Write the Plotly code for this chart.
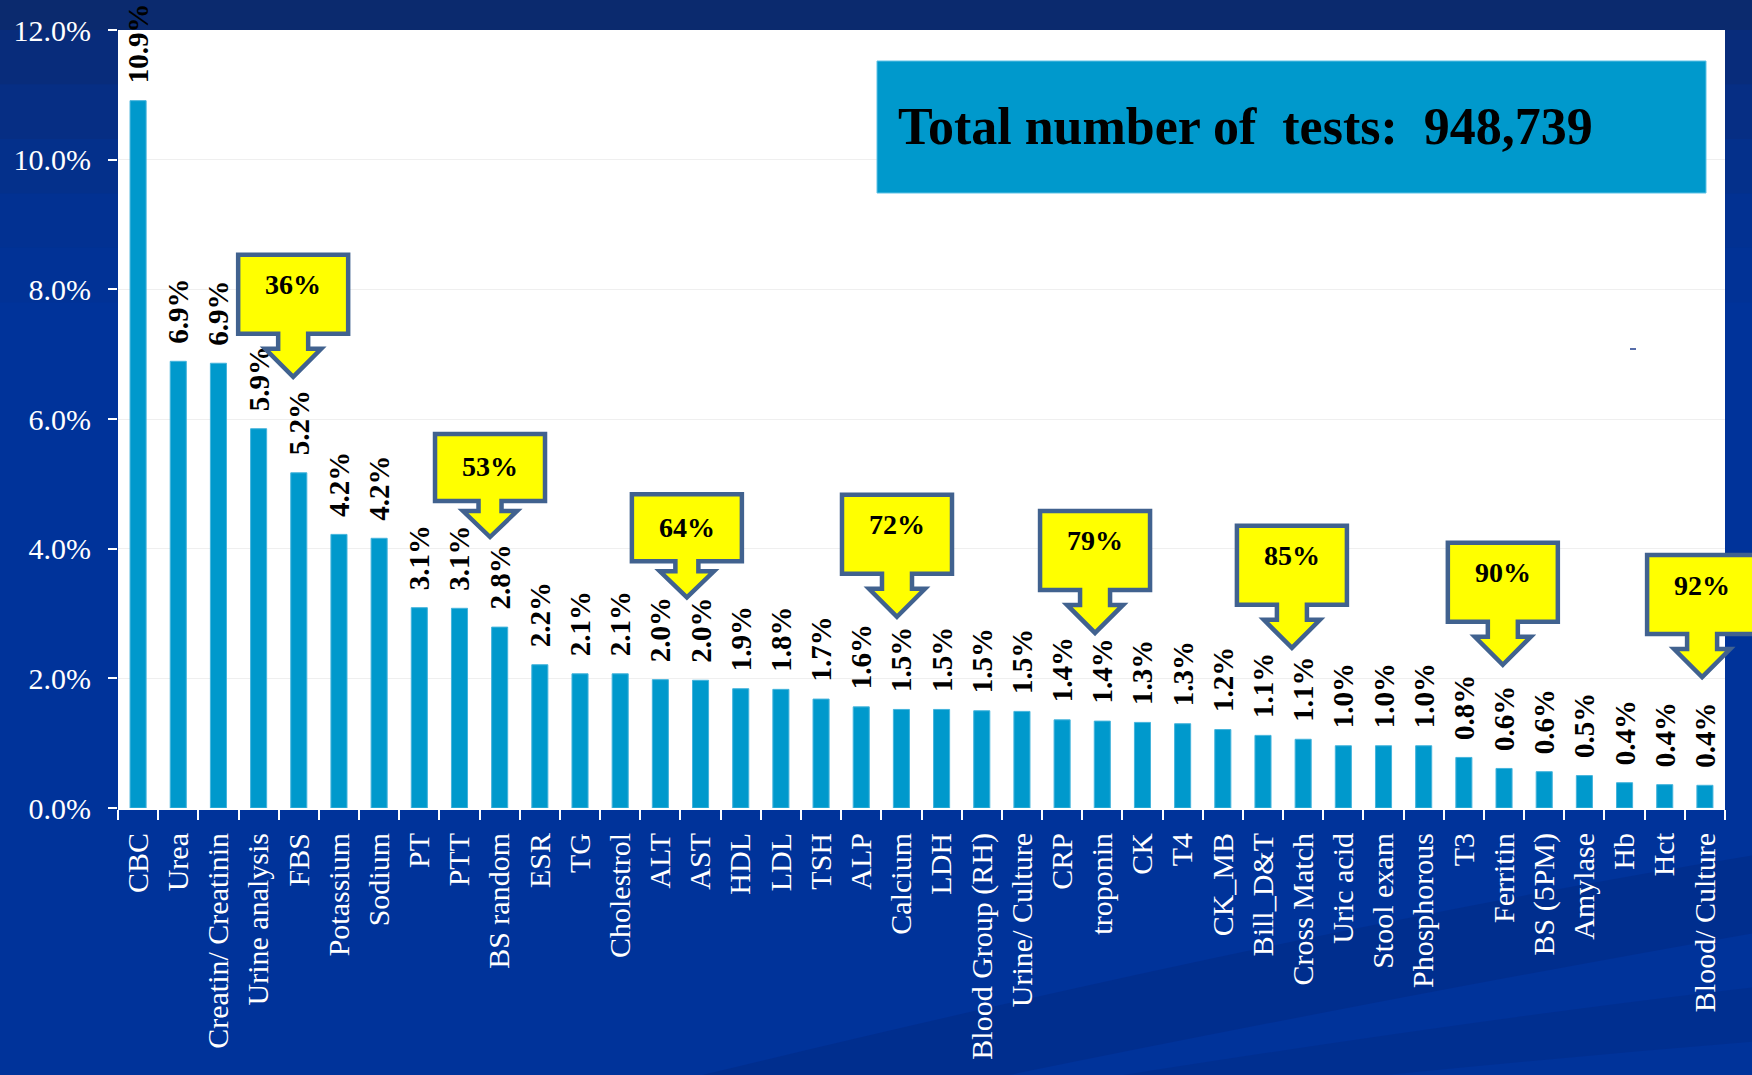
import plotly.graph_objects as go

# ---------------- data ----------------
categories = ["CBC", "Urea", "Creatin/ Creatinin", "Urine analysis", "FBS", "Potassium",
              "Sodium", "PT", "PTT", "BS random", "ESR", "TG", "Cholestrol", "ALT", "AST",
              "HDL", "LDL", "TSH", "ALP", "Calcium", "LDH", "Blood Group (RH)",
              "Urine/ Culture", "CRP", "troponin", "CK", "T4", "CK_MB", "Bill_D&T",
              "Cross Match", "Uric acid", "Stool exam", "Phosphorous", "T3", "Ferritin",
              "BS (5PM)", "Amylase", "Hb", "Hct", "Blood/ Culture"]

share_pct = [10.91, 6.89, 6.86, 5.85, 5.17, 4.22, 4.16, 3.09, 3.08, 2.79, 2.21, 2.07,
             2.07, 1.98, 1.97, 1.84, 1.83, 1.68, 1.56, 1.52, 1.52, 1.50, 1.49, 1.36,
             1.34, 1.32, 1.30, 1.21, 1.12, 1.06, 0.96, 0.96, 0.96, 0.78, 0.61, 0.56,
             0.50, 0.39, 0.36, 0.35]

bar_labels = ["10.9%", "6.9%", "6.9%", "5.9%", "5.2%", "4.2%", "4.2%", "3.1%", "3.1%",
              "2.8%", "2.2%", "2.1%", "2.1%", "2.0%", "2.0%", "1.9%", "1.8%", "1.7%",
              "1.6%", "1.5%", "1.5%", "1.5%", "1.5%", "1.4%", "1.4%", "1.3%", "1.3%",
              "1.2%", "1.1%", "1.1%", "1.0%", "1.0%", "1.0%", "0.8%", "0.6%", "0.6%",
              "0.5%", "0.4%", "0.4%", "0.4%"]

y_ticks = [0, 2, 4, 6, 8, 10, 12]
y_tick_labels = ["0.0%", "2.0%", "4.0%", "6.0%", "8.0%", "10.0%", "12.0%"]

# cumulative-share callouts
callout_labels = ["36%", "53%", "64%", "72%", "79%", "85%", "90%", "92%"]
callout_bar = [4, 9, 14, 19, 24, 29, 34, 39]
callout_tip = [6.65, 4.18, 3.25, 2.95, 2.70, 2.47, 2.21, 2.02]

total_text = "Total number of  tests:  948,739"

# ---------------- layout / style (not data) ----------------
callout_dx = [-0.14, -0.24, -0.34, -0.11, -0.18, -0.28, -0.03, -0.07]
callout_tall = [True, False, False, True, True, True, True, True]

W, H = 1752, 1075
ML, MR, MT, MB = 118, 27, 30, 267
PW, PH = W - ML - MR, H - MT - MB
N = len(categories)
YMAX = 12

SERIF = "Liberation Serif, Times New Roman, serif"
BAR_COLOR = "#0099CC"
BG = "#00339A"
TOP = "#0B2A6E"
CALLOUT_LINE = "#41628F"

fig = go.Figure()
fig.add_trace(go.Bar(
    x=categories, y=share_pct, text=bar_labels,
    texttemplate="\u00a0\u00a0%{text}",
    textposition="outside", textangle=-90, cliponaxis=False, constraintext="none",
    textfont=dict(family=SERIF, size=29, color="black", weight="bold"),
    marker=dict(color=BAR_COLOR, line=dict(color="#45B4DC", width=1)),
    width=0.4, hoverinfo="skip",
))

shapes = []
# top dark band
shapes.append(dict(type="rect", xref="paper", yref="paper", x0=-1, x1=2,
                   y0=1, y1=1.2, fillcolor=TOP, line=dict(width=0), layer="below"))
# soft gradient under the band, only in the side margins
for k, op in enumerate([0.7, 0.5, 0.32, 0.18, 0.08]):
    for xa, xb in ((-1, 0), (1, 2)):
        shapes.append(dict(type="rect", xref="paper", yref="paper", x0=xa, x1=xb,
                           y0=1 - 0.07 * (k + 1), y1=1 - 0.07 * k, fillcolor=TOP,
                           opacity=op, line=dict(width=0), layer="below"))
# decorative swooshes at bottom right
shapes.append(dict(type="path", xref="paper", yref="paper", layer="below",
                   path="M 0.36,-0.345 Q 0.75,-0.15 1.02,-0.06 L 1.02,-0.16 Q 0.8,-0.24 0.55,-0.345 Z",
                   fillcolor="#002A85", opacity=0.55, line=dict(width=0)))
shapes.append(dict(type="path", xref="paper", yref="paper", layer="below",
                   path="M 0.62,-0.345 Q 0.85,-0.27 1.02,-0.23 L 1.02,-0.30 Q 0.9,-0.32 0.78,-0.345 Z",
                   fillcolor="#002A85", opacity=0.45, line=dict(width=0)))
# total box
shapes.append(dict(type="rect", xref="paper", yref="paper",
                   x0=(877 - ML) / PW, x1=(1706 - ML) / PW,
                   y0=(H - MB - 193) / PH, y1=(H - MB - 61) / PH,
                   fillcolor=BAR_COLOR, line=dict(color="#5EC2E6", width=1), layer="above"))
# tiny dash artifact
shapes.append(dict(type="line", xref="paper", yref="paper",
                   x0=(1630 - ML) / PW, x1=(1636 - ML) / PW,
                   y0=(H - MB - 349) / PH, y1=(H - MB - 349) / PH,
                   line=dict(color="#1F3C8C", width=1.5)))

annotations = [dict(xref="paper", yref="paper",
                    x=(896 - ML) / PW, y=(H - MB - 127) / PH,
                    xanchor="left", yanchor="middle", showarrow=False,
                    text="<b>" + total_text + "</b>",
                    font=dict(family=SERIF, size=52, color="black"))]


def arrow_path(tall):
    if tall:
        hh, hw, sw, st, bt, bw = 28, 28, 15, 43, 122, 55
    else:
        hh, hw, sw, st, bt, bw = 26, 27, 11.5, 36, 103, 55
    pts = [(0, 0), (hw, hh), (sw, hh), (sw, st), (bw, st), (bw, bt), (-bw, bt),
           (-bw, st), (-sw, st), (-sw, hh), (-hw, hh)]
    return "M " + " L ".join(f"{x},{y}" for x, y in pts) + " Z"


for lab, b, dx, tip, tall in zip(callout_labels, callout_bar, callout_dx, callout_tip, callout_tall):
    xp = (b + dx + 0.5) / N
    yp = tip / YMAX
    shapes.append(dict(type="path", xref="paper", yref="paper",
                       xsizemode="pixel", ysizemode="pixel", xanchor=xp, yanchor=yp,
                       path=arrow_path(tall), fillcolor="#FFFF00",
                       line=dict(color=CALLOUT_LINE, width=4.5), layer="above"))
    annotations.append(dict(xref="paper", yref="paper", x=xp, y=yp,
                            yshift=(92 if tall else 70), showarrow=False,
                            xanchor="center", yanchor="middle",
                            text="<b>" + lab + "</b>",
                            font=dict(family=SERIF, size=28, color="black")))

fig.update_layout(
    width=W, height=H, autosize=False,
    margin=dict(l=ML, r=MR, t=MT, b=MB, pad=0),
    paper_bgcolor=BG, plot_bgcolor="white",
    showlegend=False, bargap=0.6,
    shapes=shapes, annotations=annotations,
    xaxis=dict(type="category", range=[-0.5, N - 0.5], tickson="boundaries",
               ticks="outside", ticklen=10, tickwidth=2, tickcolor="white",
               tickangle=-90, ticklabelstandoff=11,
               tickfont=dict(family=SERIF, size=30, color="white"),
               showline=True, linecolor="white", linewidth=2,
               showgrid=False, fixedrange=True),
    yaxis=dict(range=[0, YMAX], tickvals=y_ticks, ticktext=y_tick_labels,
               ticks="outside", ticklen=9, tickwidth=2, tickcolor="white",
               ticklabelstandoff=11,
               tickfont=dict(family=SERIF, size=30, color="white"),
               showgrid=True, gridcolor="#EFEFEF", gridwidth=1,
               zeroline=False, showline=False, fixedrange=True),
)

fig.write_html("out.html", config={"displayModeBar": False},
               post_script="document.body.style.margin='0';document.body.style.overflow='hidden';")
